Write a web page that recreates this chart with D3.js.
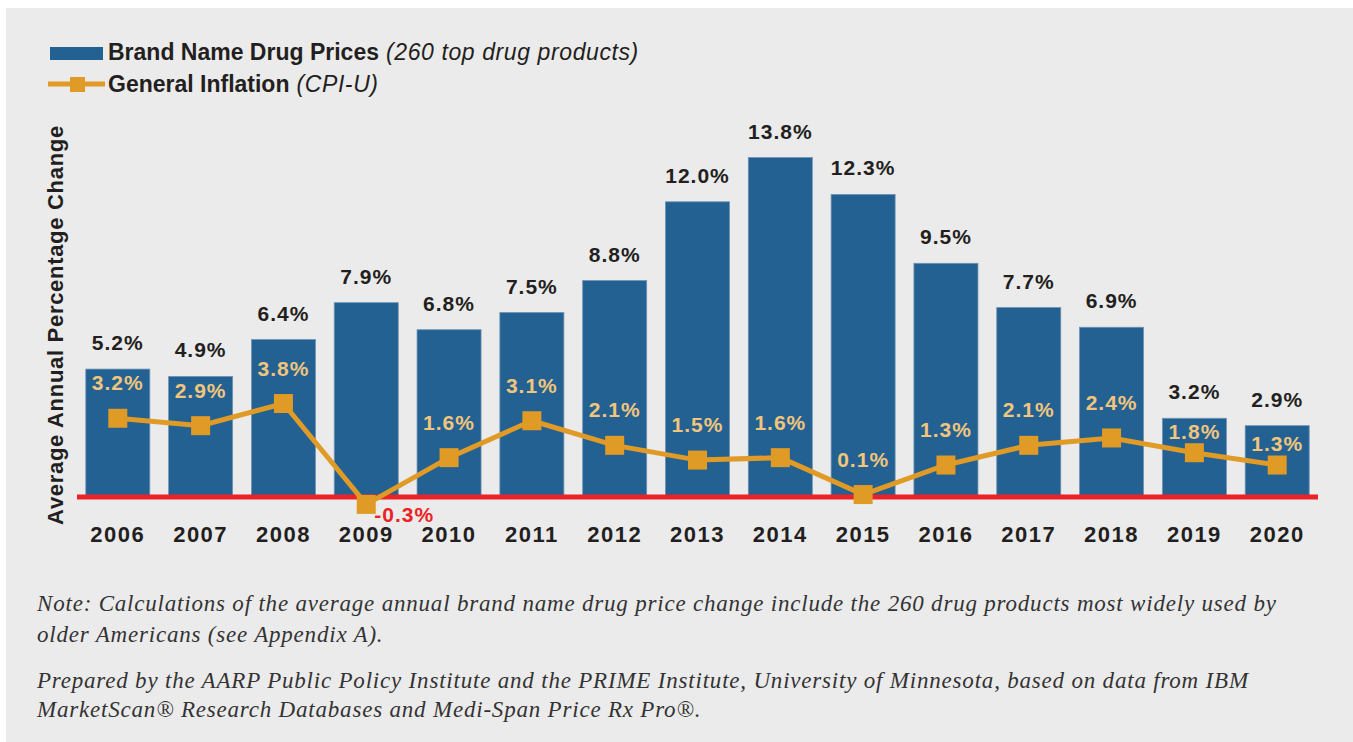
<!DOCTYPE html>
<html>
<head>
<meta charset="utf-8">
<script src="https://cdn.jsdelivr.net/npm/d3@7"></script>
<style>
  html, body { margin: 0; padding: 0; background: #ffffff; }
  svg { display: block; }
  .note { font-family: "Liberation Serif", "DejaVu Serif", "Times New Roman", serif; font-style: italic; }
</style>
</head>
<body>
<svg id="chart" width="1353" height="742"></svg>
<script>
const years = ["2006","2007","2008","2009","2010","2011","2012","2013","2014","2015","2016","2017","2018","2019","2020"];
const brandPrices = [5.2, 4.9, 6.4, 7.9, 6.8, 7.5, 8.8, 12.0, 13.8, 12.3, 9.5, 7.7, 6.9, 3.2, 2.9];
const inflation = [3.2, 2.9, 3.8, -0.3, 1.6, 3.1, 2.1, 1.5, 1.6, 0.1, 1.3, 2.1, 2.4, 1.8, 1.3];
const legendLabels = [
  ["Brand Name Drug Prices", " (260 top drug products)"],
  ["General Inflation", " (CPI-U)"]
];
const yAxisTitle = "Average Annual Percentage Change";
const notes = [
  "Note: Calculations of the average annual brand name drug price change include the 260 drug products most widely used by",
  "older Americans (see Appendix A).",
  "Prepared by the AARP Public Policy Institute and the PRIME Institute, University of Minnesota, based on data from IBM",
  "MarketScan\u00AE Research Databases and Medi-Span Price Rx Pro\u00AE."
];

const svg = d3.select("#chart");
const BLUE = "#236192", ORANGE = "#e09a26", LIGHT = "#f1c57d", RED = "#ec2227", DARK = "#231f20";
const FONT = "'Liberation Sans', Arial, sans-serif";

svg.append("rect").attr("x", 6).attr("y", 8).attr("width", 1347).attr("height", 734).attr("fill", "#ebebeb");

const x = d3.scaleBand().domain(years).range([67, 1328]).paddingInner(0.227).paddingOuter(0.227);
const y = d3.scaleLinear().domain([0, 14]).range([497, 497 - 14 * 24.6]);

// Bars
svg.append("g").selectAll("rect").data(years).join("rect")
  .attr("x", d => x(d))
  .attr("y", (d, i) => y(brandPrices[i]))
  .attr("width", x.bandwidth())
  .attr("height", (d, i) => y(0) - y(brandPrices[i]))
  .attr("fill", BLUE)
  .attr("stroke", "#6f93b5").attr("stroke-width", 0.8);

// Zero line
svg.append("line")
  .attr("x1", 77).attr("x2", 1318)
  .attr("y1", y(0)).attr("y2", y(0))
  .attr("stroke", RED).attr("stroke-width", 5);

// Bar labels
svg.append("g").selectAll("text").data(years).join("text")
  .attr("x", d => x(d) + x.bandwidth() / 2)
  .attr("y", (d, i) => y(brandPrices[i]) - 19)
  .attr("text-anchor", "middle")
  .style("font-family", FONT).attr("font-weight", 700).attr("font-size", 21)
  .attr("letter-spacing", 1)
  .attr("fill", DARK)
  .text((d, i) => brandPrices[i].toFixed(1) + "%");

// Inflation line
const cx = d => x(d) + x.bandwidth() / 2;
const line = d3.line().x((d, i) => cx(years[i])).y(d => y(d));
svg.append("path").datum(inflation)
  .attr("d", line).attr("fill", "none")
  .attr("stroke", ORANGE).attr("stroke-width", 5).attr("stroke-linejoin", "miter");
const ms = 19;
svg.append("g").selectAll("rect").data(inflation).join("rect")
  .attr("x", (d, i) => cx(years[i]) - ms / 2)
  .attr("y", d => y(d) - ms / 2)
  .attr("width", ms).attr("height", ms)
  .attr("fill", ORANGE);

// Inflation labels: sit above the marker, but stay inside the bar when it is short
const labelY = (d, i) => {
  if (d < 0) return y(d) + 18;
  const above = y(d) - 28;
  return (above - 16 < y(brandPrices[i]) + 2) ? y(d) - 14 : above;
};
svg.append("g").selectAll("text").data(inflation).join("text")
  .attr("x", (d, i) => d < 0 ? cx(years[i]) + 8 : cx(years[i]))
  .attr("y", labelY)
  .attr("text-anchor", d => d < 0 ? "start" : "middle")
  .style("font-family", FONT).attr("font-weight", 700).attr("font-size", 21)
  .attr("letter-spacing", 1)
  .attr("fill", d => d < 0 ? RED : LIGHT)
  .text(d => d.toFixed(1) + "%");

// X axis labels
const xAxis = d3.axisBottom(x).tickSize(0).tickPadding(0);
const gx = svg.append("g").attr("transform", `translate(0,${y(0) + 45})`).call(xAxis);
gx.select(".domain").remove();
gx.selectAll("text")
  .attr("dy", 0).attr("y", 0)
  .style("font-family", FONT).attr("font-weight", 700).attr("font-size", 22)
  .attr("letter-spacing", 1.5)
  .attr("fill", DARK);

// Y axis title
svg.append("text")
  .attr("transform", `translate(63,${y(0) - 172}) rotate(-90)`)
  .attr("text-anchor", "middle")
  .style("font-family", FONT).attr("font-weight", 700).attr("font-size", 22)
  .attr("letter-spacing", 0.7)
  .attr("fill", DARK)
  .text(yAxisTitle);

// Legend
svg.append("rect").attr("x", 50).attr("y", 47).attr("width", 53).attr("height", 13).attr("fill", BLUE);
svg.append("line").attr("x1", 48).attr("x2", 105).attr("y1", 84).attr("y2", 84).attr("stroke", ORANGE).attr("stroke-width", 5);
svg.append("rect").attr("x", 70).attr("y", 77).attr("width", 15).attr("height", 15).attr("fill", ORANGE);
legendLabels.forEach((l, i) => {
  const t = svg.append("text").attr("x", 108).attr("y", 60 + i * 32)
    .style("font-family", FONT).attr("font-size", 23).attr("fill", DARK);
  t.append("tspan").attr("font-weight", 700).text(l[0]);
  t.append("tspan").attr("font-style", "italic").attr("letter-spacing", 0.6).text(l[1]);
});

// Notes
const noteY = [611, 642, 688, 717];
notes.forEach((n, i) => {
  svg.append("text").attr("class", "note").attr("x", 37).attr("y", noteY[i])
    .attr("font-size", 23)
    .attr("letter-spacing", 0.8)
    .attr("fill", "#333333")
    .text(n);
});
</script>
</body>
</html>
